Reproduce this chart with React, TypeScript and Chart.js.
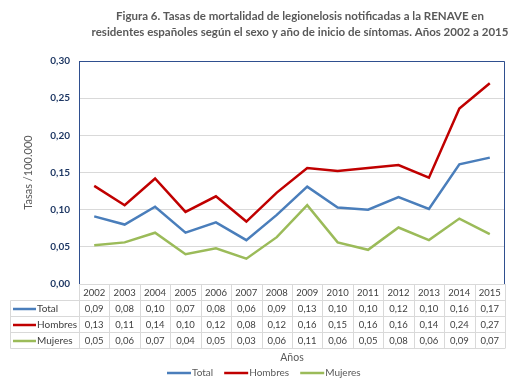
import React, { useEffect, useRef } from 'react';
import { Chart, registerables } from 'chart.js';

Chart.register(...registerables);

const years = ['2002', '2003', '2004', '2005', '2006', '2007', '2008', '2009', '2010', '2011', '2012', '2013', '2014', '2015'];
const total = [0.091, 0.080, 0.104, 0.069, 0.083, 0.059, 0.093, 0.131, 0.103, 0.100, 0.117, 0.101, 0.161, 0.170];
const hombres = [0.132, 0.106, 0.142, 0.097, 0.118, 0.084, 0.123, 0.156, 0.152, 0.156, 0.160, 0.143, 0.236, 0.270];
const mujeres = [0.052, 0.056, 0.069, 0.040, 0.048, 0.034, 0.063, 0.106, 0.056, 0.046, 0.076, 0.059, 0.088, 0.067];

const titleLines = [
  'Figura 6. Tasas de mortalidad de legionelosis notificadas a la RENAVE en',
  'residentes españoles según el sexo y año de inicio de síntomas. Años 2002 a 2015',
];
const yTitle = 'Tasas /100.000';
const xTitle = 'Años';

const FONT = 'Lato';
const fmt = (v: number) => (Math.round(v * 100) / 100).toFixed(2).replace('.', ',');

const customPlugin = {
  id: 'custom',
  beforeDatasetsDraw(chart: any) {
    const { ctx, chartArea: ca } = chart;
    ctx.save();
    ctx.strokeStyle = '#2F4F8F';
    ctx.lineWidth = 1;
    ctx.beginPath();
    ctx.moveTo(Math.round(ca.left) + 0.5, Math.round(ca.top) + 0.5);
    ctx.lineTo(Math.round(ca.right) - 0.5, Math.round(ca.top) + 0.5);
    ctx.lineTo(Math.round(ca.right) - 0.5, Math.round(ca.bottom));
    ctx.stroke();
    ctx.restore();
  },
  afterDraw(chart: any) {
    const { ctx, chartArea: ca, scales } = chart;
    const x = scales.x;
    const n = years.length;
    const w = (ca.right - ca.left) / n;
    const top = Math.round(ca.bottom);
    const rows = [top, top + 16.5, top + 32.5, top + 48.5, top + 64.5];
    const tableLeft = 10.5;
    ctx.save();

    // Title
    ctx.fillStyle = '#595959';
    ctx.font = `bold 11.5px ${FONT}`;
    ctx.textAlign = 'center';
    ctx.textBaseline = 'middle';
    ctx.fillText(titleLines[0], 300, 16);
    ctx.fillText(titleLines[1], 300, 32);

    // Table grid
    ctx.strokeStyle = '#D9D9D9';
    ctx.lineWidth = 1;
    ctx.beginPath();
    for (let r = 1; r < rows.length; r++) {
      ctx.moveTo(tableLeft, rows[r]);
      ctx.lineTo(ca.right, rows[r]);
    }
    for (let i = 0; i <= n; i++) {
      const xx = Math.round(ca.left + i * w) + 0.5;
      ctx.moveTo(xx, top);
      ctx.lineTo(xx, rows[rows.length - 1]);
    }
    ctx.moveTo(tableLeft, rows[1]);
    ctx.lineTo(tableLeft, rows[rows.length - 1]);
    ctx.stroke();

    // Header years
    ctx.fillStyle = '#404040';
    ctx.font = `9.5px ${FONT}`;
    ctx.textAlign = 'center';
    ctx.textBaseline = 'middle';
    years.forEach((yr, i) => {
      ctx.fillText(yr, x.getPixelForValue(i), (rows[0] + rows[1]) / 2 + 0.5);
    });

    // Data rows
    chart.data.datasets.forEach((ds: any, r: number) => {
      const cy = (rows[r + 1] + rows[r + 2]) / 2 + 0.5;
      ctx.strokeStyle = ds.borderColor;
      ctx.lineWidth = 2.5;
      ctx.beginPath();
      ctx.moveTo(13, cy);
      ctx.lineTo(36, cy);
      ctx.stroke();
      ctx.fillStyle = '#404040';
      ctx.font = `10px ${FONT}`;
      ctx.textAlign = 'left';
      ctx.fillText(ds.label, 37, cy);
      ctx.font = `9.5px ${FONT}`;
      ctx.textAlign = 'center';
      ds.data.forEach((v: number, i: number) => {
        ctx.fillText(fmt(v), x.getPixelForValue(i), cy);
      });
    });

    // X axis title
    ctx.fillStyle = '#595959';
    ctx.font = `10.5px ${FONT}`;
    ctx.textAlign = 'center';
    ctx.fillText(xTitle, 292, 358);

    // Legend
    let lx = 167;
    const ly = 373;
    ctx.font = `10px ${FONT}`;
    ctx.textAlign = 'left';
    chart.data.datasets.forEach((ds: any) => {
      ctx.strokeStyle = ds.borderColor;
      ctx.lineWidth = 2.5;
      ctx.beginPath();
      ctx.moveTo(lx, ly);
      ctx.lineTo(lx + 24, ly);
      ctx.stroke();
      ctx.fillStyle = '#595959';
      ctx.fillText(ds.label, lx + 25, ly);
      lx += 25 + ctx.measureText(ds.label).width + 11;
    });

    ctx.restore();
  },
};

export default function App() {
  const ref = useRef<HTMLCanvasElement>(null);
  useEffect(() => {
    document.body.style.margin = '0';
    const chart = new Chart(ref.current as HTMLCanvasElement, {
      type: 'line',
      data: {
        labels: years,
        datasets: [
          { label: 'Total', data: total, borderColor: '#4A7EBB', backgroundColor: '#4A7EBB', borderWidth: 2.5, pointRadius: 0, tension: 0 },
          { label: 'Hombres', data: hombres, borderColor: '#C00000', backgroundColor: '#C00000', borderWidth: 2.5, pointRadius: 0, tension: 0 },
          { label: 'Mujeres', data: mujeres, borderColor: '#9BBB59', backgroundColor: '#9BBB59', borderWidth: 2.5, pointRadius: 0, tension: 0 },
        ],
      },
      options: {
        responsive: false,
        animation: false,
        layout: { padding: { left: 0, top: 61, right: 20, bottom: 103 } },
        plugins: { legend: { display: false }, title: { display: false }, tooltip: { enabled: false } },
        scales: {
          x: {
            offset: true,
            grid: { display: false, drawTicks: false },
            border: { display: false },
            ticks: { display: false },
            afterFit: (s: any) => { s.height = 0; },
          },
          y: {
            min: 0,
            max: 0.3,
            ticks: {
              stepSize: 0.05,
              padding: 9,
              color: '#1F3864',
              font: { family: FONT, size: 10, weight: 'bold' },
              callback: (v: any) => Number(v).toFixed(2).replace('.', ','),
            },
            grid: { color: '#D9D9D9', drawTicks: false },
            border: { color: '#2F4F8F', width: 1 },
            title: {
              display: true,
              text: yTitle,
              color: '#595959',
              font: { family: FONT, size: 11 },
              padding: { top: 22, bottom: 0 },
            },
            afterFit: (s: any) => { s.width = 79; },
          },
        },
      },
      plugins: [customPlugin],
    });
    return () => chart.destroy();
  }, []);
  return <canvas ref={ref} width={525} height={387} style={{ display: 'block' }} />;
}
